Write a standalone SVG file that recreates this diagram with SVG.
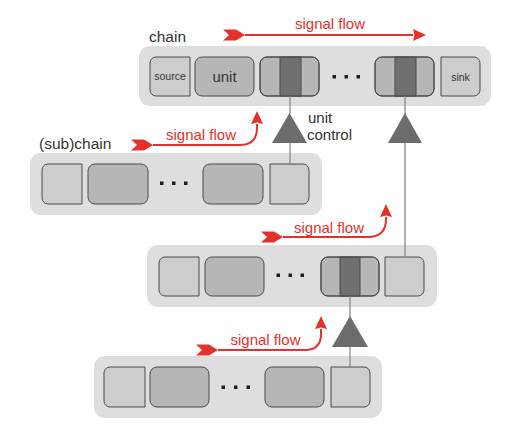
<svg xmlns="http://www.w3.org/2000/svg" width="521" height="446" viewBox="0 0 521 446">
<style>
.cont{fill:#dedede;stroke:none}
.lt{fill:#cdcdcd;stroke:#4a4a4a;stroke-width:1}
.md{fill:#b6b6b6;stroke:#4a4a4a;stroke-width:1}
.dk{fill:#707070;stroke:#4a4a4a;stroke-width:1}
.ol{fill:none;stroke:#4a4a4a;stroke-width:1}
.dot{fill:#1e1e1e}
.tri{fill:#6c6c6c;stroke:none}
.ln{stroke:#8a8a8a;stroke-width:1.3;fill:none}
.flow{stroke:#e6302b;stroke-width:2;fill:none;marker-start:url(#tail);marker-end:url(#head)}
.lbl{font-family:"Liberation Sans",Arial,sans-serif;font-size:15.5px;fill:#333}
.uc{font-family:"Liberation Sans",Arial,sans-serif;font-size:15px;fill:#333}
.red{font-family:"Liberation Sans",Arial,sans-serif;font-size:15px;fill:#e6302b;text-anchor:middle}
.sm{font-family:"Liberation Sans",Arial,sans-serif;font-size:10.5px;fill:#333;text-anchor:middle}
.un{font-family:"Liberation Sans",Arial,sans-serif;font-size:15px;fill:#333;text-anchor:middle}
</style>
<defs>
<marker id="head" markerUnits="userSpaceOnUse" markerWidth="16" markerHeight="14" viewBox="0 -7 16 14" refX="0" refY="0" orient="auto" overflow="visible">
<path d="M0,-6 L13,0 L0,6 L1.5,0 Z" fill="#e6302b"/>
</marker>
<marker id="tail" markerUnits="userSpaceOnUse" markerWidth="24" markerHeight="14" viewBox="-23 -7 24 14" refX="0" refY="0" orient="auto" overflow="visible">
<path d="M-22,-5.5 L-9,-5.5 L0,0 L-9,5.5 L-22,5.5 L-16,0 Z" fill="#e6302b"/>
</marker>
</defs>

<g id="chain-main">
<rect class="cont" x="139" y="46" width="352" height="60" rx="11"/>
<text class="lbl" x="149" y="42">chain</text>
<g id="source"><path class="lt" d="M156,57 H190 V96 H156 A6 6 0 0 1 150,90 V63 A6 6 0 0 1 156,57 Z"/><text class="sm" x="170" y="80">source</text></g>
<g id="unit"><rect class="md" x="195" y="57" width="59" height="39" rx="7"/><text class="un" x="224.5" y="81.5">unit</text></g>
<g id="ctrl-unit-1"><rect class="md" x="260" y="57" width="59" height="39" rx="7"/><rect class="dk" x="280" y="57" width="21" height="39"/><rect class="ol" x="260" y="57" width="59" height="39" rx="7"/></g>
<g id="dots-1"><rect class="dot" x="332.5" y="75" width="3.5" height="3.5"/><rect class="dot" x="344.5" y="75" width="3.5" height="3.5"/><rect class="dot" x="356.5" y="75" width="3.5" height="3.5"/></g>
<g id="ctrl-unit-2"><rect class="md" x="375" y="57" width="59" height="39" rx="7"/><rect class="dk" x="395" y="57" width="21" height="39"/><rect class="ol" x="375" y="57" width="59" height="39" rx="7"/></g>
<g id="sink"><path class="lt" d="M441,57 H474 A6 6 0 0 1 480,63 V90 A6 6 0 0 1 474,96 H441 Z"/><text class="sm" x="460.5" y="80.5">sink</text></g>
</g>

<g id="subchain-1">
<rect class="cont" x="30" y="153" width="292" height="62" rx="11"/>
<text class="lbl" x="39" y="149">(sub)chain</text>
<g id="s1-b1"><path class="lt" d="M48,164 H82 V204 H48 A6 6 0 0 1 42,198 V170 A6 6 0 0 1 48,164 Z"/></g>
<g id="s1-b2"><rect class="md" x="88" y="164" width="60" height="40" rx="7"/></g>
<g id="s1-dots"><rect class="dot" x="160" y="181.5" width="3.5" height="3.5"/><rect class="dot" x="172" y="181.5" width="3.5" height="3.5"/><rect class="dot" x="184" y="181.5" width="3.5" height="3.5"/></g>
<g id="s1-b4"><rect class="md" x="203" y="164" width="60" height="40" rx="7"/></g>
<g id="s1-b5"><path class="lt" d="M270,164 H303 A6 6 0 0 1 309,170 V198 A6 6 0 0 1 303,204 H270 Z"/></g>
</g>

<g id="subchain-2">
<rect class="cont" x="147" y="245" width="290" height="62" rx="11"/>
<g id="s2-b1"><path class="lt" d="M165,257 H199 V296 H165 A6 6 0 0 1 159,290 V263 A6 6 0 0 1 165,257 Z"/></g>
<g id="s2-b2"><rect class="md" x="205" y="257" width="59" height="39" rx="7"/></g>
<g id="s2-dots"><rect class="dot" x="276.5" y="273.5" width="3.5" height="3.5"/><rect class="dot" x="288.5" y="273.5" width="3.5" height="3.5"/><rect class="dot" x="300.5" y="273.5" width="3.5" height="3.5"/></g>
<g id="s2-ctrl"><rect class="md" x="321" y="257" width="58" height="39" rx="7"/><rect class="dk" x="340" y="257" width="20" height="39"/><rect class="ol" x="321" y="257" width="58" height="39" rx="7"/></g>
<g id="s2-b5"><path class="lt" d="M385,257 H418 A6 6 0 0 1 424,263 V290 A6 6 0 0 1 418,296 H385 Z"/></g>
</g>

<g id="subchain-3">
<rect class="cont" x="94" y="356" width="288" height="62" rx="11"/>
<g id="s3-b1"><path class="lt" d="M110,367 H145 V407 H110 A6 6 0 0 1 104,401 V373 A6 6 0 0 1 110,367 Z"/></g>
<g id="s3-b2"><rect class="md" x="150" y="367" width="59" height="40" rx="7"/></g>
<g id="s3-dots"><rect class="dot" x="221.5" y="385.5" width="3.5" height="3.5"/><rect class="dot" x="234" y="385.5" width="3.5" height="3.5"/><rect class="dot" x="246.5" y="385.5" width="3.5" height="3.5"/></g>
<g id="s3-b4"><rect class="md" x="265" y="367" width="59" height="40" rx="7"/></g>
<g id="s3-b5"><path class="lt" d="M331,367 H364 A6 6 0 0 1 370,373 V401 A6 6 0 0 1 364,407 H331 Z"/></g>
</g>

<g id="connectors">
<path class="ln" d="M290,96 V114"/>
<path class="ln" d="M290,143 V164"/>
<path class="ln" d="M405,96 V114"/>
<path class="ln" d="M405,143 V257"/>
<path class="ln" d="M350,296 V317"/>
<path class="ln" d="M350,347 V367"/>
<path class="flow" d="M245,35 H413"/>
<path class="flow" d="M153,145 H240 Q257,145 257,128 V124"/>
<path class="flow" d="M283,237 H368 Q386,237 386,219 V217"/>
<path class="flow" d="M218,350 H305 Q321,350 321,334 V329"/>
</g>

<g id="unit-control-1"><polygon class="tri" points="289.5,113 272,143 307,143"/></g>
<g id="unit-control-2"><polygon class="tri" points="405,113 388,143 422,143"/></g>
<g id="unit-control-3"><polygon class="tri" points="350,316 332,347 368,347"/></g>

<g id="labels">
<text class="uc" x="308" y="122.5">unit</text>
<text class="uc" x="307" y="140">control</text>
<text class="red" x="330" y="29">signal flow</text>
<text class="red" x="201" y="140">signal flow</text>
<text class="red" x="329" y="233">signal flow</text>
<text class="red" x="265.5" y="345">signal flow</text>
</g>
</svg>
